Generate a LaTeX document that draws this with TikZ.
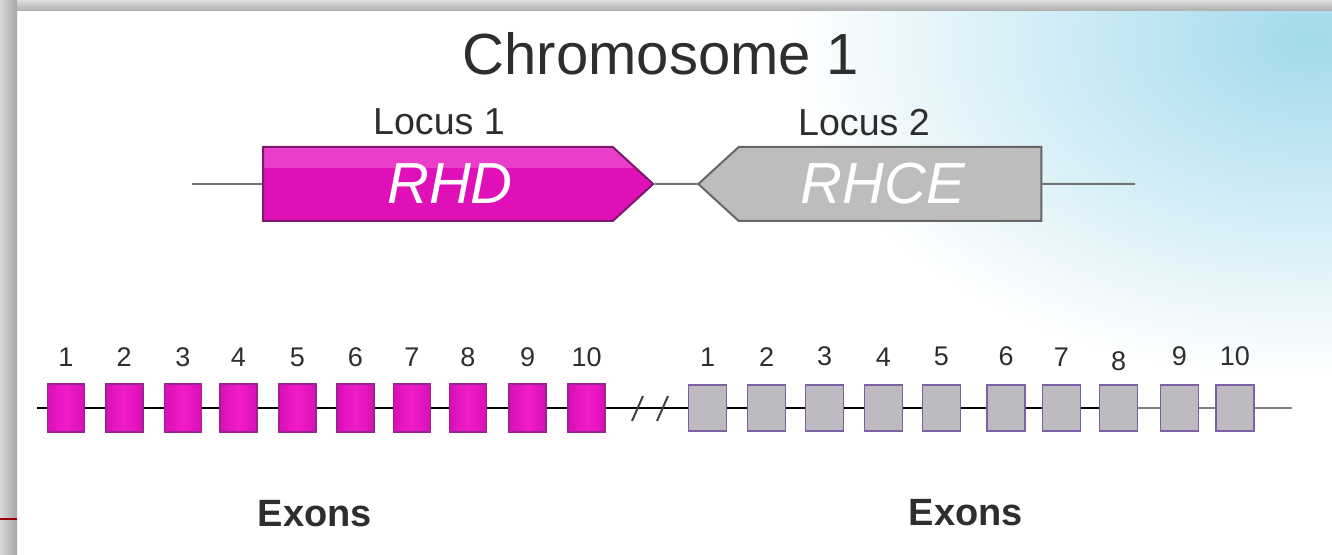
\documentclass[tikz,border=0pt]{standalone}
\usepackage{fontspec}
\setmainfont{Liberation Sans}
\usepackage{tikz}
\usetikzlibrary{shapes.symbols}

\definecolor{rhdpink}{HTML}{E010B8}
\definecolor{rhdlight}{HTML}{E93DCA}
\definecolor{rhdedge}{HTML}{7A1A6C}
\definecolor{rhcegray}{HTML}{BDBDBD}
\definecolor{rhceedge}{HTML}{666666}
\definecolor{exdark}{HTML}{D80FB4}
\definecolor{exlight}{HTML}{F21CCB}
\definecolor{exedge}{HTML}{9A2494}
\definecolor{cegray}{HTML}{BDBBC0}
\definecolor{ceedge}{HTML}{7D5FA6}
\definecolor{skyblue}{HTML}{A2DAEC}
\definecolor{textgray}{HTML}{2E2E2E}

\begin{document}
\begin{tikzpicture}[x=0.5pt, y=-0.5pt,
    gene/.style={signal, draw, line width=1pt, minimum height=37pt, inner sep=0pt,
        signal pointer angle=85, font=\fontsize{29}{30}\selectfont\itshape, text=white},
    exonD/.style={rectangle, draw=exedge, line width=0.8pt, left color=exdark,
        right color=exdark, middle color=exlight, minimum width=18.5pt, minimum height=24pt, inner sep=0pt},
    exonCE/.style={rectangle, draw=ceedge, line width=0.8pt, fill=cegray,
        minimum width=19pt, minimum height=23pt, inner sep=0pt},
    num/.style={font=\fontsize{13.5}{15}\selectfont, text=textgray},
    dnum/.style={label={[num, label distance=4.8pt]above:#1}},
    cenum/.style={label={[num, label distance=5.5pt]above:#1}},
    locus/.style={font=\fontsize{18.8}{20}\selectfont, text=textgray},
    exons/.style={font=\fontsize{19}{20}\selectfont\bfseries, text=textgray},
    chrline/.style={line width=1pt, draw=gray!90!black},
    intron/.style={line width=1pt, draw=black}
]
    \useasboundingbox (0,0) rectangle (1332,555);

    % Background
    \begin{scope}
        \clip (17,11) rectangle (1332,555);
        \shade[inner color=skyblue, outer color=white] (1310,40) ellipse [x radius=520, y radius=340];
    \end{scope}
    \shade[top color=gray!25, bottom color=gray!65] (0,0) rectangle (1332,11);
    \shade[left color=gray!30, right color=gray!70] (0,0) rectangle (17,555);
    \draw[red!60!black, line width=1pt] (0,519) -- (17,519);

    % Chromosome
    \node[font=\fontsize{29}{30}\selectfont, text=textgray] (chr) at (661,54) {Chromosome 1};
    \node[locus] (locus1) at (439,122) {Locus 1};
    \node[locus] (locus2) at (864,123) {Locus 2};

    \node[gene, fill=rhdpink, draw=rhdedge, signal to=east, minimum width=195pt,
        path picture={\fill[rhdlight] (path picture bounding box.north west)
            rectangle ([yshift=-10.5pt]path picture bounding box.north east);}] (rhd) at (438,184) {\hspace*{12pt}RHD};
    \node[gene, fill=rhcegray, draw=rhceedge, signal to=west, minimum width=171.5pt] (rhce) at (890,184) {RHCE\hspace*{7pt}};

    \coordinate (chrL) at (192,184);
    \coordinate (chrR) at (1135,184);
    \draw[chrline] (chrL) -- (rhd);
    \draw[chrline] (rhd) -- (rhce);
    \draw[chrline] (rhce) -- (chrR);

    % RHD exons
    \node[exonD, dnum=1] (d1) at (65.8,408) {};
    \node[exonD, dnum=2] (d2) at (124.2,408) {};
    \node[exonD, dnum=3] (d3) at (183,408) {};
    \node[exonD, dnum=4] (d4) at (238.5,408) {};
    \node[exonD, dnum=5] (d5) at (297.5,408) {};
    \node[exonD, dnum=6] (d6) at (355.4,408) {};
    \node[exonD, dnum=7] (d7) at (412,408) {};
    \node[exonD, dnum=8] (d8) at (468,408) {};
    \node[exonD, dnum=9] (d9) at (527.6,408) {};
    \node[exonD, dnum=10] (d10) at (586.7,408) {};

    % RHCE exons
    \node[exonCE, cenum=1] (c1) at (707.5,408) {};
    \node[exonCE, cenum=2] (c2) at (766.5,408) {};
    \node[exonCE, cenum=3] (c3) at (824.5,408) {};
    \node[exonCE, cenum=4] (c4) at (883.3,408) {};
    \node[exonCE, cenum=5] (c5) at (941.3,408) {};
    \node[exonCE, cenum=6] (c6) at (1006,408) {};
    \node[exonCE, cenum=7] (c7) at (1061.4,408) {};
    \node[exonCE, label={[num, label distance=3pt]above:8}] (c8) at (1118.5,408) {};
    \node[exonCE, cenum=9] (c9) at (1179.3,408) {};
    \node[exonCE, cenum=10] (c10) at (1234.8,408) {};

    % Introns
    \coordinate (rowL) at (37,408);
    \coordinate (rowR) at (1292,408);
    \coordinate (brk) at (650,408);
    \draw[intron] (rowL) -- (d1) -- (d2) -- (d3) -- (d4) -- (d5) -- (d6) -- (d7) -- (d8) -- (d9) -- (d10);
    \draw[intron] (d10) -- (c1);
    \draw[intron] (c1) -- (c2) -- (c3) -- (c4) -- (c5) -- (c6) -- (c7) -- (c8);
    \draw[intron, gray] (c8) -- (c9) -- (c10) -- (rowR);
    \draw[intron, black!75] ([shift={(-18,13)}]brk) -- ++(11,-25);
    \draw[intron, black!75] ([shift={(7,13)}]brk) -- ++(11,-25);

    \node[exons] (exD) at (315,514) {Exons};
    \node[exons] (exCE) at (966,513) {Exons};
\end{tikzpicture}
\end{document}
